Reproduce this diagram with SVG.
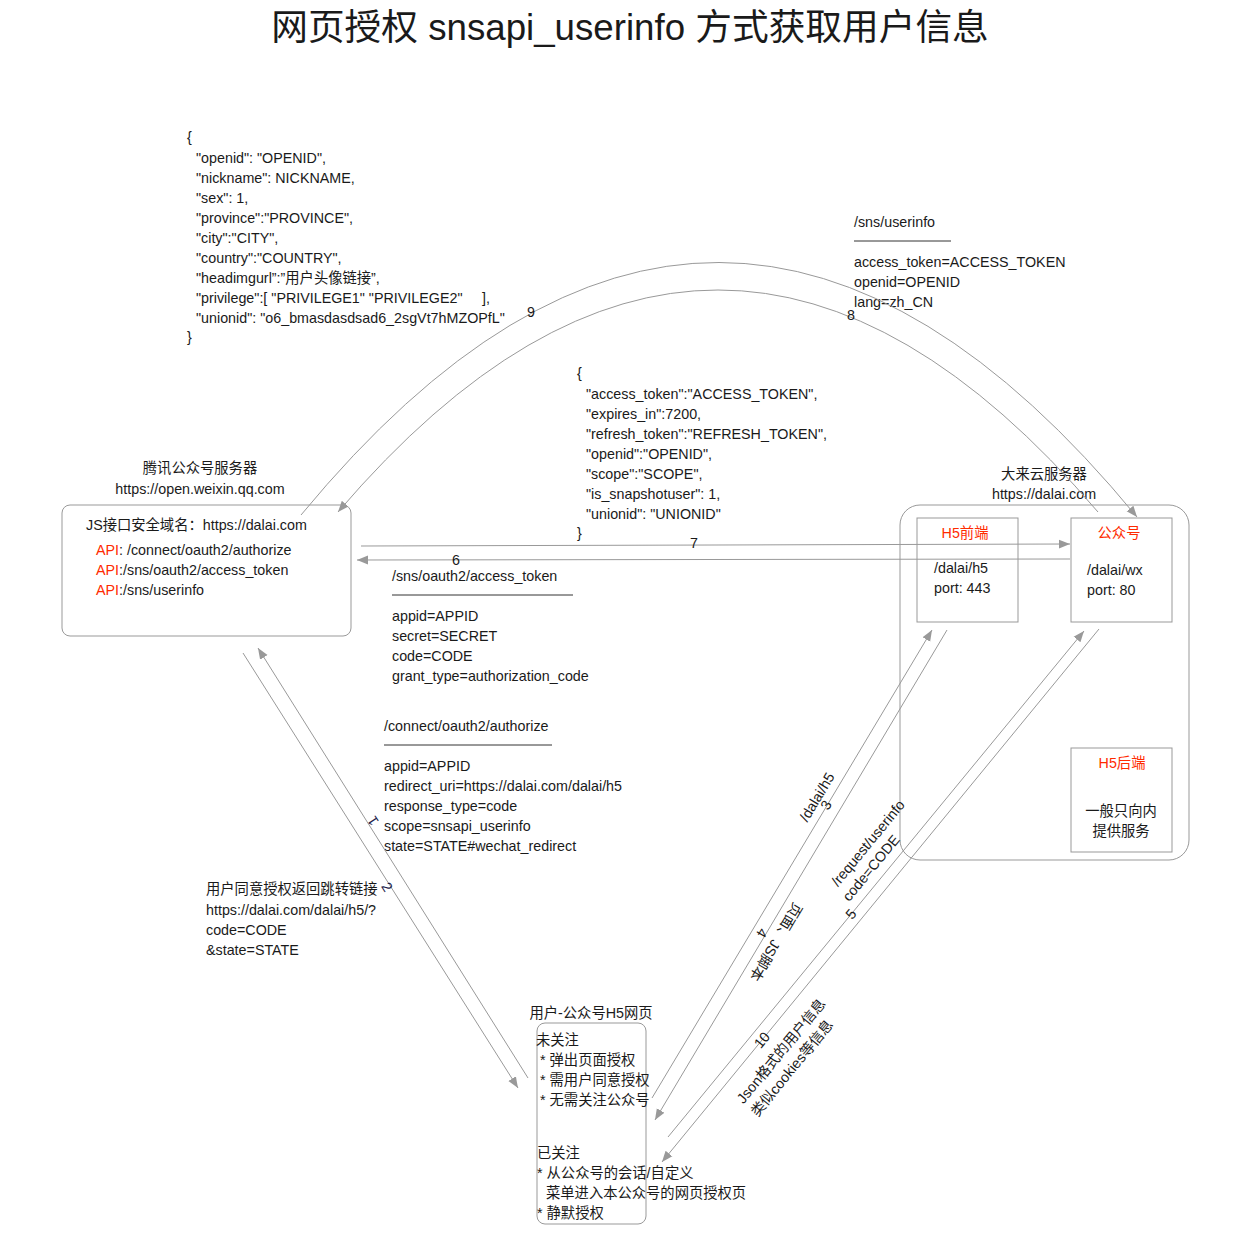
<svg xmlns="http://www.w3.org/2000/svg" width="1257" height="1235" viewBox="0 0 1257 1235">
<defs>
<style>
text{font-family:"Liberation Sans","Noto Sans CJK SC",sans-serif;font-size:14.3px;fill:#1a1a1a}
.title{font-size:36.7px}
.red{fill:#ff2a00}
.c{text-anchor:middle}
.box{fill:#fff;stroke:#999;stroke-width:1}
.conn{fill:none;stroke:#999;stroke-width:1}
.ul{stroke:#333;stroke-width:1}
.num{fill:#22224a}
</style>
<marker id="arr" viewBox="0 0 10 10" refX="10" refY="5" markerWidth="11" markerHeight="11" markerUnits="userSpaceOnUse" orient="auto">
<path d="M0,1 L10,5 L0,9 z" fill="#999"/>
</marker>
</defs>
<rect width="1257" height="1235" fill="#fff"/>
<text class="title c" x="630" y="40">网页授权 snsapi_userinfo 方式获取用户信息</text>

<g id="userinfo-json">
<text x="187" y="142">{</text>
<text x="196" y="163">"openid": "OPENID",</text>
<text x="196" y="183">"nickname": NICKNAME,</text>
<text x="196" y="203">"sex": 1,</text>
<text x="196" y="223">"province":"PROVINCE",</text>
<text x="196" y="243">"city":"CITY",</text>
<text x="196" y="263">"country":"COUNTRY",</text>
<text x="196" y="283">"headimgurl”:”用户头像链接”,</text>
<text x="196" y="303">"privilege":[ "PRIVILEGE1" "PRIVILEGE2"</text>
<text x="482" y="303">],</text>
<text x="196" y="323">"unionid": "o6_bmasdasdsad6_2sgVt7hMZOPfL"</text>
<text x="187" y="342">}</text>
</g>

<g id="sns-userinfo-req">
<text x="854" y="227">/sns/userinfo</text>
<line class="ul" x1="854" y1="241" x2="951" y2="241"/>
<text x="854" y="267">access_token=ACCESS_TOKEN</text>
<text x="854" y="287">openid=OPENID</text>
<text x="854" y="307">lang=zh_CN</text>
</g>

<g id="token-json">
<text x="577" y="378">{</text>
<text x="586" y="399">"access_token":"ACCESS_TOKEN",</text>
<text x="586" y="419">"expires_in":7200,</text>
<text x="586" y="439">"refresh_token":"REFRESH_TOKEN",</text>
<text x="586" y="459">"openid":"OPENID",</text>
<text x="586" y="479">"scope":"SCOPE",</text>
<text x="586" y="499">"is_snapshotuser": 1,</text>
<text x="586" y="519">"unionid": "UNIONID"</text>
<text x="577" y="538">}</text>
</g>

<g id="tencent-server">
<text class="c" x="200" y="473">腾讯公众号服务器</text>
<text class="c" x="200" y="494">https://open.weixin.qq.com</text>
<rect class="box" x="62" y="505" width="289" height="131" rx="8"/>
<text x="86" y="530">JS接口安全域名：https://dalai.com</text>
<text x="96" y="555"><tspan class="red">API</tspan>: /connect/oauth2/authorize</text>
<text x="96" y="575"><tspan class="red">API</tspan>:/sns/oauth2/access_token</text>
<text x="96" y="595"><tspan class="red">API</tspan>:/sns/userinfo</text>
</g>

<g id="access-token-req">
<text x="392" y="581">/sns/oauth2/access_token</text>
<line class="ul" x1="392" y1="595" x2="573" y2="595"/>
<text x="392" y="621">appid=APPID</text>
<text x="392" y="641">secret=SECRET</text>
<text x="392" y="661">code=CODE</text>
<text x="392" y="681">grant_type=authorization_code</text>
</g>

<g id="authorize-req">
<text x="384" y="731">/connect/oauth2/authorize</text>
<line class="ul" x1="384" y1="745" x2="552" y2="745"/>
<text x="384" y="771">appid=APPID</text>
<text x="384" y="791">redirect_uri=https://dalai.com/dalai/h5</text>
<text x="384" y="811">response_type=code</text>
<text x="384" y="831">scope=snsapi_userinfo</text>
<text x="384" y="851">state=STATE#wechat_redirect</text>
</g>

<g id="redirect-note">
<text x="206" y="894">用户同意授权返回跳转链接</text>
<text x="206" y="915">https://dalai.com/dalai/h5/?</text>
<text x="206" y="935">code=CODE</text>
<text x="206" y="955">&amp;state=STATE</text>
</g>

<g id="dalai-server">
<text class="c" x="1044" y="479">大来云服务器</text>
<text class="c" x="1044" y="499">https://dalai.com</text>
<rect class="box" x="900" y="505" width="289" height="355" rx="20"/>
</g>

<g id="h5-front">
<rect class="box" x="917" y="518" width="101" height="104"/>
<text class="c red" x="965" y="538">H5前端</text>
<text x="934" y="573">/dalai/h5</text>
<text x="934" y="593">port: 443</text>
</g>

<g id="gzh">
<rect class="box" x="1071" y="518" width="101" height="104"/>
<text class="c red" x="1119" y="538">公众号</text>
<text x="1087" y="575">/dalai/wx</text>
<text x="1087" y="595">port: 80</text>
</g>

<g id="h5-back">
<rect class="box" x="1071" y="748" width="101" height="104"/>
<text class="c red" x="1122" y="768">H5后端</text>
<text class="c" x="1121" y="816">一般只向内</text>
<text class="c" x="1121" y="836">提供服务</text>
</g>

<g id="user-page">
<text class="c" x="591" y="1018">用户-公众号H5网页</text>
<rect class="box" x="537" y="1023" width="109" height="201" rx="8"/>
<text x="536" y="1045">未关注</text>
<text x="540" y="1065">* 弹出页面授权</text>
<text x="540" y="1085">* 需用户同意授权</text>
<text x="540" y="1105">* 无需关注公众号</text>
<text x="537" y="1158">已关注</text>
<text x="537" y="1178">* 从公众号的会话/自定义</text>
<text x="546" y="1198">菜单进入本公众号的网页授权页</text>
<text x="537" y="1218">* 静默授权</text>
</g>

<g id="connectors">
<path class="conn" d="M528,1078 L258,648" marker-end="url(#arr)"/>
<path class="conn" d="M243,653 L518,1088" marker-end="url(#arr)"/>
<path class="conn" d="M652,1098 L932,630" marker-end="url(#arr)"/>
<path class="conn" d="M947,630 L655,1120" marker-end="url(#arr)"/>
<path class="conn" d="M668,1137 L1084,631" marker-end="url(#arr)"/>
<path class="conn" d="M1099,629 L662,1162" marker-end="url(#arr)"/>
<path class="conn" d="M1070,559 L357,560" marker-end="url(#arr)"/>
<path class="conn" d="M361,546 L1070,544" marker-end="url(#arr)"/>
<path class="conn" d="M1098,512 Q718,68 338,512" marker-end="url(#arr)"/>
<path class="conn" d="M301,515 Q719,9 1137,517" marker-end="url(#arr)"/>
</g>

<g id="connector-labels">
<text class="c num" transform="translate(373,821) rotate(-123)" y="5">1</text>
<text class="c num" transform="translate(387,887) rotate(57.7)" y="5">2</text>
<text class="c" transform="translate(817,797) rotate(-59)" y="5">/dalai/h5</text>
<text class="c" transform="translate(826,805) rotate(-59)" y="5">3</text>
<text class="c" transform="translate(762,933) rotate(120.7)" y="5">4</text>
<text class="c" transform="translate(776,942) rotate(120.7)" y="5">页面、JS脚本</text>
<text class="c" transform="translate(868,843) rotate(-50.6)" y="5">/request/userinfo</text>
<text class="c" transform="translate(871,868) rotate(-50.6)" y="5">code=CODE</text>
<text class="c" transform="translate(851,914) rotate(-50.6)" y="5">5</text>
<text class="c" x="456" y="565">6</text>
<text class="c" x="694" y="548">7</text>
<text class="c" x="851" y="320">8</text>
<text class="c" x="531" y="317">9</text>
<text class="c" transform="translate(762,1040) rotate(-50.6)" y="5">10</text>
<text class="c" transform="translate(781,1051) rotate(-50.6)" y="5">Json格式的用户信息</text>
<text class="c" transform="translate(792,1068) rotate(-50.6)" y="5">类似cookies等信息</text>
</g>
</svg>
